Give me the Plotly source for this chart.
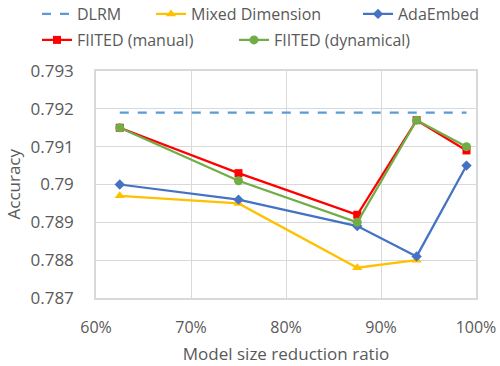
import plotly.graph_objects as go

ratios = [0.625, 0.75, 0.875, 0.9375, 0.99]
dlrm = [0.7919, 0.7919, 0.7919, 0.7919, 0.7919]
mixed_dimension = [0.7897, 0.7895, 0.7878, 0.7880, None]
ada_embed = [0.7900, 0.7896, 0.7889, 0.7881, 0.7905]
fiited_manual = [0.7915, 0.7903, 0.7892, 0.7917, 0.7909]
fiited_dynamical = [0.7915, 0.7901, 0.7890, 0.7917, 0.7910]

y_tickvals = [0.787, 0.788, 0.789, 0.790, 0.791, 0.792, 0.793]
y_ticktext = ["0.787", "0.788", "0.789", "0.79", "0.791", "0.792", "0.793"]
x_tickvals = [0.6, 0.7, 0.8, 0.9, 1.0]
x_ticktext = ["60%", "70%", "80%", "90%", "100%"]

FONT = "Open Sans"
GRAY = "#595959"
FS = 17
LFS = 16

fig = go.Figure()
fig.add_trace(go.Scatter(x=ratios, y=dlrm, name="DLRM", mode="lines", showlegend=True,
                         line=dict(color="#5B9BD5", width=2.25, dash="dash"), legend="legend"))
fig.add_trace(go.Scatter(x=ratios, y=mixed_dimension, name="Mixed Dimension", mode="lines+markers",
                         line=dict(color="#FFC000", width=2.25),
                         marker=dict(symbol="triangle-up", size=9, color="#FFC000"), legend="legend2"))
fig.add_trace(go.Scatter(x=ratios, y=ada_embed, name="AdaEmbed", mode="lines+markers",
                         line=dict(color="#4472C4", width=2.25),
                         marker=dict(symbol="diamond", size=8, color="#4472C4"), legend="legend3"))
fig.add_trace(go.Scatter(x=ratios, y=fiited_manual, name="FIITED (manual)", mode="lines+markers",
                         line=dict(color="#FF0000", width=2.25),
                         marker=dict(symbol="square", size=8, color="#FF0000"), legend="legend4"))
fig.add_trace(go.Scatter(x=ratios, y=fiited_dynamical, name="FIITED (dynamical)", mode="lines+markers",
                         line=dict(color="#70AD47", width=2.25),
                         marker=dict(symbol="circle", size=9, color="#70AD47"), legend="legend5"))


def leg(xpx, ypx):
    return dict(orientation="h", xref="container", yref="container", xanchor="left", yanchor="middle",
                x=xpx / 500, y=1 - ypx / 366, visible=True,
                font=dict(family=FONT, size=LFS, color=GRAY), bgcolor="rgba(0,0,0,0)",
                borderwidth=0)


fig.update_layout(
    width=500, height=366,
    showlegend=True,
    margin=dict(l=96, r=24, t=71, b=68, autoexpand=False),
    paper_bgcolor="white", plot_bgcolor="white",
    font=dict(family=FONT, color=GRAY),
    legend=leg(37, 14),
    legend2=leg(151, 14),
    legend3=leg(358, 14),
    legend4=leg(37, 40),
    legend5=leg(234, 40),
    xaxis=dict(range=[0.6, 1.0], tickvals=x_tickvals, ticktext=x_ticktext, automargin=False,
               showgrid=True, gridcolor="#D9D9D9", gridwidth=1,
               showline=True, linecolor="#D9D9D9", linewidth=1.5, mirror=True,
               zeroline=False, ticks="", ticklabelstandoff=14,
               tickfont=dict(size=16, color=GRAY, family=FONT),
               title=dict(text="Model size reduction ratio", font=dict(size=FS, color=GRAY, family=FONT), standoff=11)),
    yaxis=dict(range=[0.787, 0.793], tickvals=y_tickvals, ticktext=y_ticktext, automargin=False,
               showgrid=True, gridcolor="#D9D9D9", gridwidth=1,
               showline=True, linecolor="#D9D9D9", linewidth=1.5, mirror=True,
               zeroline=False, ticks="", ticklabelstandoff=17,
               tickfont=dict(size=FS, color=GRAY, family=FONT)),
    annotations=[dict(text="Accuracy", textangle=-90, xref="paper", yref="paper",
                      x=-83 / 380, y=0.5, xanchor="center", yanchor="middle", showarrow=False,
                      font=dict(size=FS, color=GRAY, family=FONT))],
)

fig.write_html("out.html", config={"displayModeBar": False},
               post_script="document.body.style.margin='0';")
